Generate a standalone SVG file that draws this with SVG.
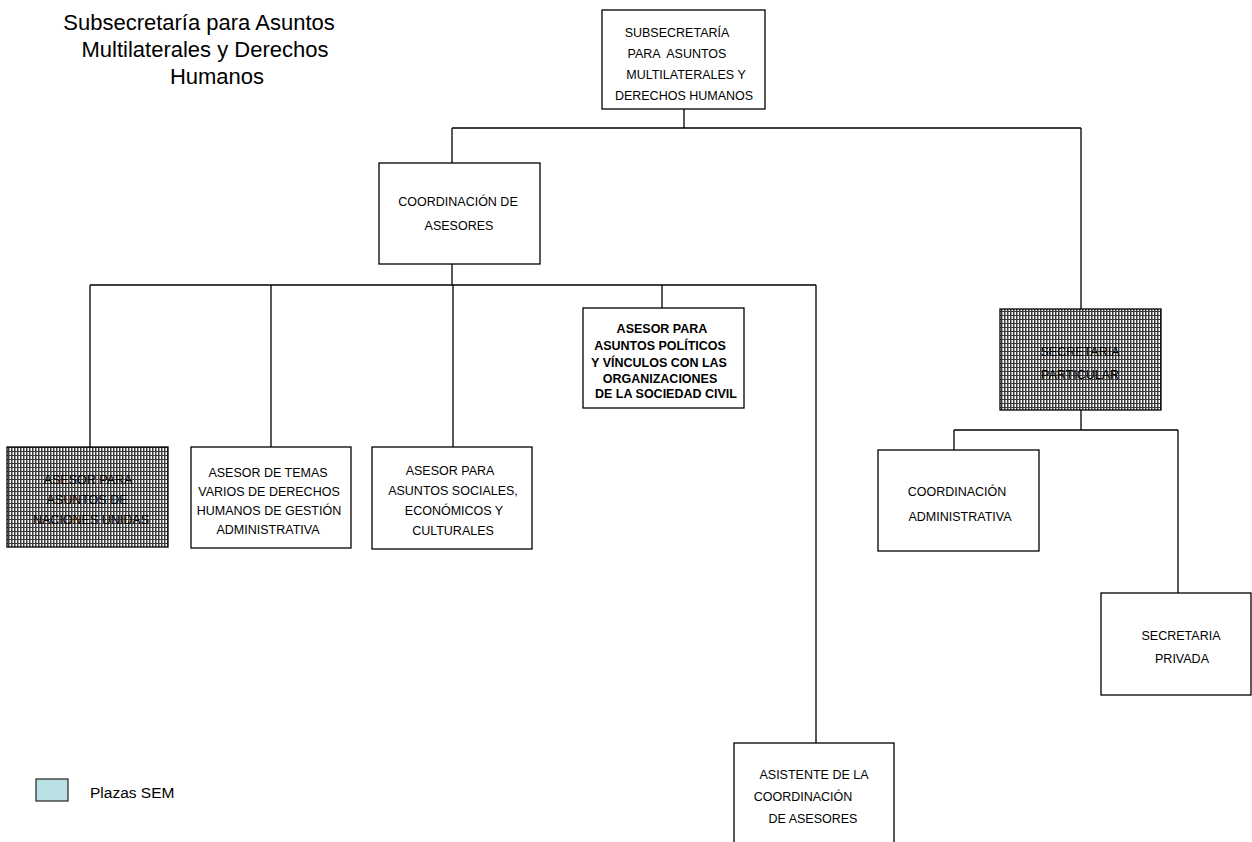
<svg xmlns="http://www.w3.org/2000/svg" width="1252" height="842" viewBox="0 0 1252 842">
<style>
.box{fill:#fff;stroke:#000;stroke-width:1.3}
.pat{fill:url(#hatch);stroke:#000;stroke-width:1.3}
.t{font-family:"Liberation Sans",Arial,sans-serif;font-size:12.5px;fill:#000;text-anchor:middle}
.b{font-weight:bold}
.title{font-family:"Liberation Sans",Arial,sans-serif;font-size:22px;fill:#000;text-anchor:middle}
.conn path{fill:none;stroke:#000;stroke-width:1.3}
</style>
<defs>
<pattern id="hatch" width="3" height="4" patternUnits="userSpaceOnUse">
<rect width="3" height="4" fill="#3a3a3a"/>
<rect x="0" y="0" width="1" height="3" fill="#9c9c9c"/>
<rect x="1" y="0" width="1" height="3" fill="#ffffff"/>
</pattern>
</defs>
<rect width="1252" height="842" fill="#fff"/>

<g id="title">
<text class="title" x="199" y="30">Subsecretaría para Asuntos</text>
<text class="title" x="205" y="57">Multilaterales y Derechos</text>
<text class="title" x="217" y="84">Humanos</text>
</g>

<g class="conn" id="connectors">
<path d="M684,109 V128 M452,128 H1081 M452,128 V163 M1081,128 V309"/>
<path d="M452,264 V285 M90,285 H816 M90,285 V447 M271,285 V447 M453,285 V447 M662,285 V308 M816,285 V743"/>
<path d="M1081,410 V430 M954,430 H1178 M954,430 V450 M1178,430 V593"/>
</g>

<g id="subsecretaria">
<rect class="box" x="602" y="10" width="163" height="99"/>
<text class="t" x="677" y="37">SUBSECRETARÍA</text>
<text class="t" x="677" y="58" xml:space="preserve">PARA  ASUNTOS</text>
<text class="t" x="686" y="79">MULTILATERALES Y</text>
<text class="t" x="684" y="100">DERECHOS HUMANOS</text>
</g>

<g id="coordinacion-asesores">
<rect class="box" x="379" y="163" width="161" height="101"/>
<text class="t" x="458" y="206">COORDINACIÓN DE</text>
<text class="t" x="459" y="230">ASESORES</text>
</g>

<g id="asesor-naciones-unidas">
<rect class="pat" x="7" y="447" width="161" height="100"/>
<text class="t" x="88" y="484">ASESOR PARA</text>
<text class="t" x="87" y="504">ASUNTOS DE</text>
<text class="t" x="91" y="524">NACIONES UNIDAS</text>
</g>

<g id="asesor-temas-varios">
<rect class="box" x="191" y="447" width="160" height="101"/>
<text class="t" x="268" y="477">ASESOR DE TEMAS</text>
<text class="t" x="269" y="496">VARIOS DE DERECHOS</text>
<text class="t" x="269" y="515">HUMANOS DE GESTIÓN</text>
<text class="t" x="268" y="534">ADMINISTRATIVA</text>
</g>

<g id="asesor-sociales">
<rect class="box" x="372" y="447" width="160" height="102"/>
<text class="t" x="450" y="475">ASESOR PARA</text>
<text class="t" x="453" y="495">ASUNTOS SOCIALES,</text>
<text class="t" x="454" y="515">ECONÓMICOS Y</text>
<text class="t" x="453" y="535">CULTURALES</text>
</g>

<g id="asesor-politicos">
<rect class="box" x="583" y="308" width="161" height="100"/>
<text class="t b" x="662" y="333">ASESOR PARA</text>
<text class="t b" x="660" y="350">ASUNTOS POLÍTICOS</text>
<text class="t b" x="659" y="367">Y VÍNCULOS CON LAS</text>
<text class="t b" x="660" y="383">ORGANIZACIONES</text>
<text class="t b" x="666" y="398">DE LA SOCIEDAD CIVIL</text>
</g>

<g id="asistente">
<rect class="box" x="734" y="743" width="160" height="120"/>
<text class="t" x="814" y="779">ASISTENTE DE LA</text>
<text class="t" x="803" y="801">COORDINACIÓN</text>
<text class="t" x="813" y="823">DE ASESORES</text>
</g>

<g id="secretaria-particular">
<rect class="pat" x="1000" y="309" width="161" height="101"/>
<text class="t" x="1080" y="356">SECRETARIA</text>
<text class="t" x="1080" y="379">PARTICULAR</text>
</g>

<g id="coordinacion-administrativa">
<rect class="box" x="878" y="450" width="161" height="101"/>
<text class="t" x="957" y="496">COORDINACIÓN</text>
<text class="t" x="960" y="521">ADMINISTRATIVA</text>
</g>

<g id="secretaria-privada">
<rect class="box" x="1101" y="593" width="150" height="102"/>
<text class="t" x="1181" y="640">SECRETARIA</text>
<text class="t" x="1182" y="663">PRIVADA</text>
</g>

<g id="legend">
<rect x="36" y="779" width="32" height="22" fill="#b9e1e4" stroke="#222" stroke-width="1.2"/>
<text x="90" y="798" font-family="Liberation Sans, Arial, sans-serif" font-size="15.5" fill="#000">Plazas SEM</text>
</g>
</svg>
